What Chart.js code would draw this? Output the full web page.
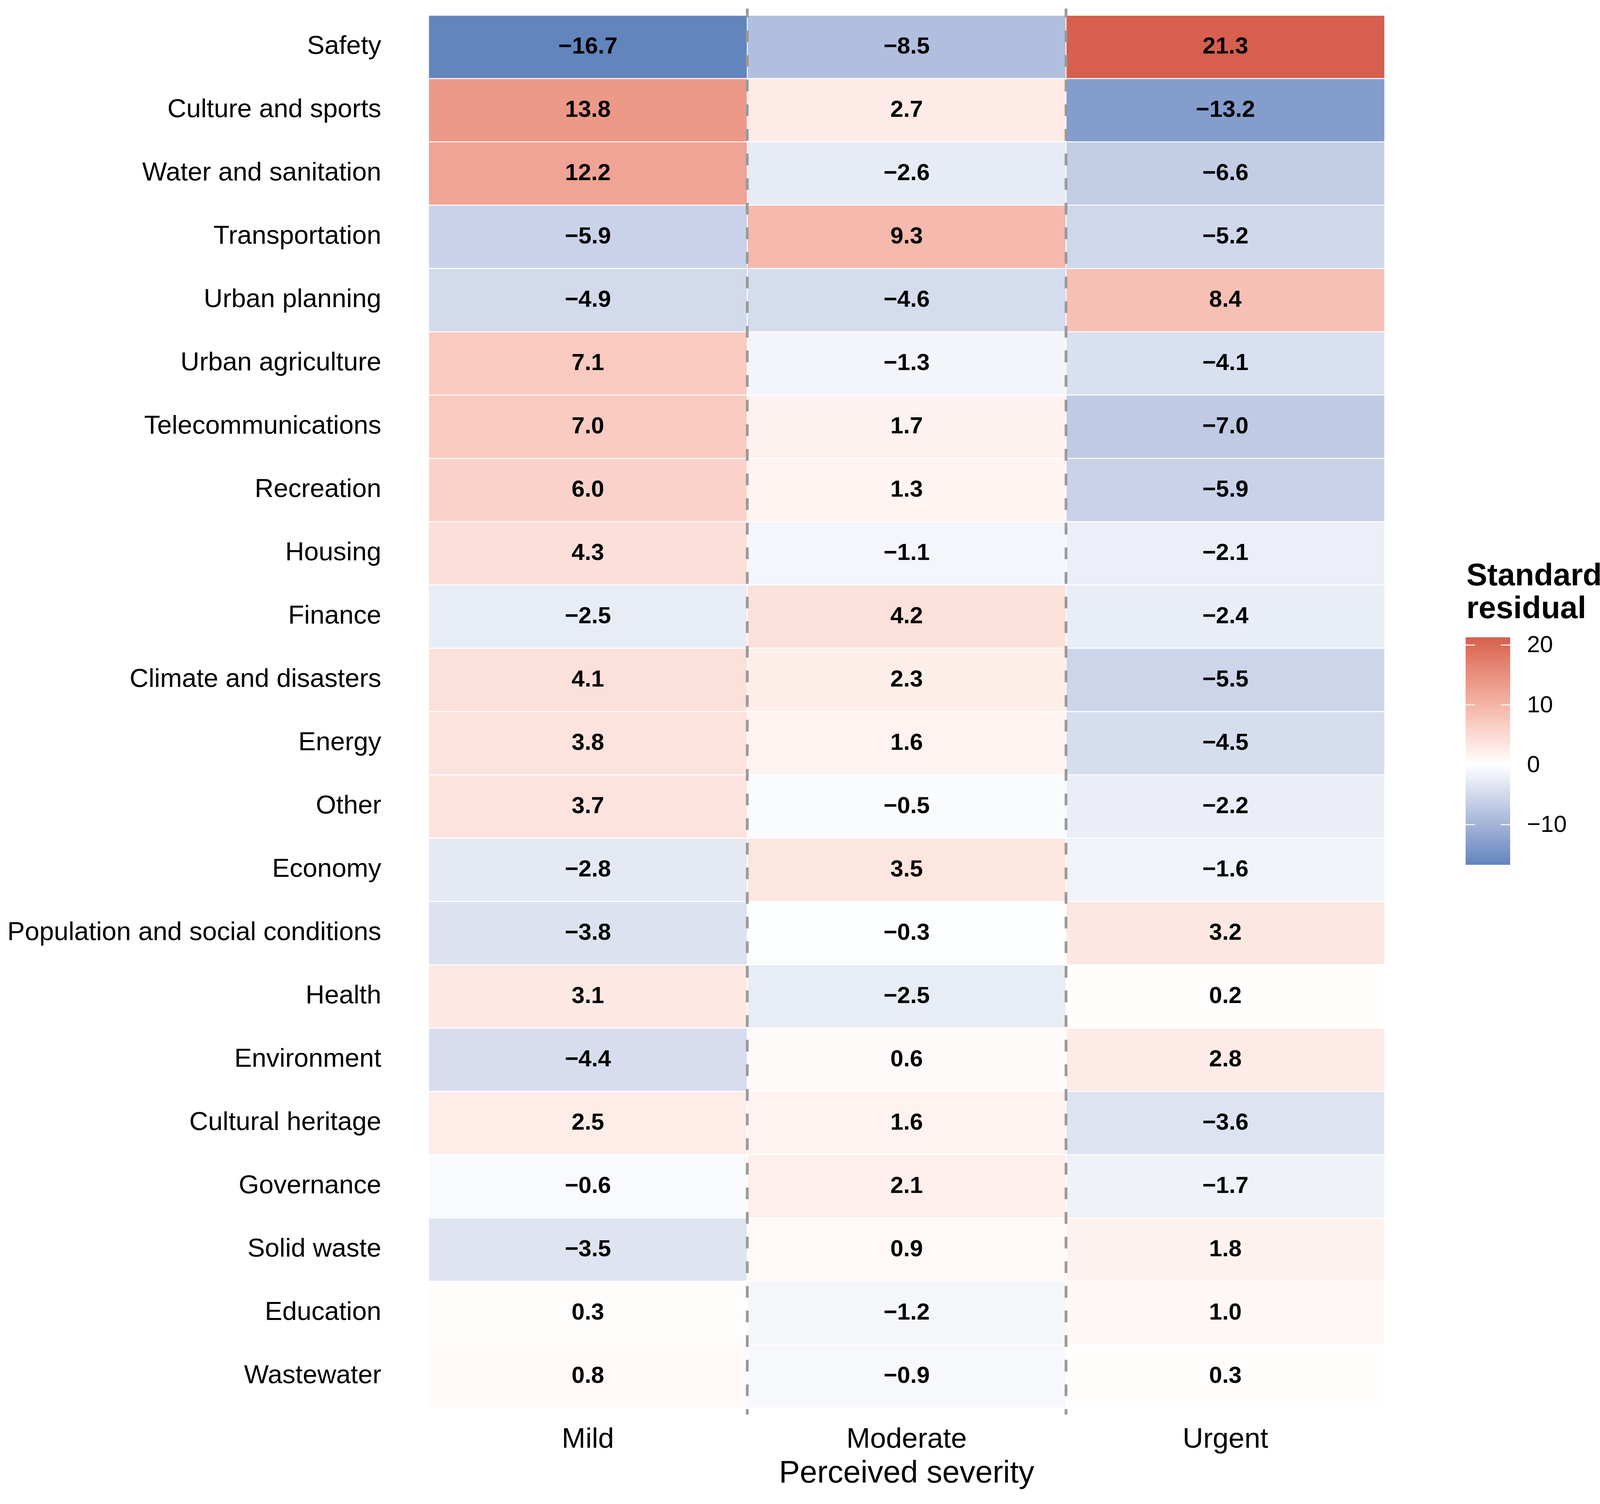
<!DOCTYPE html>
<html><head><meta charset="utf-8">
<script src="https://cdn.jsdelivr.net/npm/chart.js@4.4.1/dist/chart.umd.min.js"></script>
<style>html,body{margin:0;padding:0;background:#fff;overflow:hidden;} #wrap{width:4272px;height:3849px;position:relative;} canvas{display:block;}</style>
</head><body>
<div id="wrap"><canvas id="c" width="4272" height="3849" style="width:4272px;height:3849px"></canvas></div>
<script>
// ---------- data ----------
const topics = ['Safety','Culture and sports','Water and sanitation','Transportation','Urban planning',
  'Urban agriculture','Telecommunications','Recreation','Housing','Finance','Climate and disasters',
  'Energy','Other','Economy','Population and social conditions','Health','Environment',
  'Cultural heritage','Governance','Solid waste','Education','Wastewater'];
const severities = ['Mild','Moderate','Urgent'];
const mild     = [-16.7, 13.8, 12.2, -5.9, -4.9, 7.1, 7.0, 6.0, 4.3, -2.5, 4.1, 3.8, 3.7, -2.8, -3.8, 3.1, -4.4, 2.5, -0.6, -3.5, 0.3, 0.8];
const moderate = [-8.5, 2.7, -2.6, 9.3, -4.6, -1.3, 1.7, 1.3, -1.1, 4.2, 2.3, 1.6, -0.5, 3.5, -0.3, -2.5, 0.6, 1.6, 2.1, 0.9, -1.2, -0.9];
const urgent   = [21.3, -13.2, -6.6, -5.2, 8.4, -4.1, -7.0, -5.9, -2.1, -2.4, -5.5, -4.5, -2.2, -1.6, 3.2, 0.2, 2.8, -3.6, -1.7, 1.8, 1.0, 0.3];
const legendTicks = [20, 10, 0, -10];
const legendTitle = ['Standardized', 'residual'];
const xTitle = 'Perceived severity';

// ---------- colour scale (Lab interpolation, midpoint 0) ----------
const highColor = '#D6604D', lowColor = '#6285BE', midColor = '#FFFFFF';
const columns = [mild, moderate, urgent];
const allVals = columns.flat();
const vMin = Math.min(...allVals), vMax = Math.max(...allVals);

function hexToRgb(h){ h=h.replace('#',''); return [0,2,4].map(i=>parseInt(h.substr(i,2),16)); }
function toLin(c){ c/=255; return c<=0.04045? c/12.92 : Math.pow((c+0.055)/1.055,2.4); }
function fromLin(c){ const v = c<=0.0031308? 12.92*c : 1.055*Math.pow(c,1/2.4)-0.055; return Math.max(0,Math.min(255,Math.round(v*255))); }
const Xn=0.95047, Yn=1.0, Zn=1.08883;
function f(t){ return t>0.008856? Math.cbrt(t) : 7.787*t+16/116; }
function finv(t){ return t>0.206893? t*t*t : (t-16/116)/7.787; }
function rgbToLab(rgb){
  const [r,g,b]=rgb.map(toLin);
  const X=(0.4124*r+0.3576*g+0.1805*b)/Xn, Y=(0.2126*r+0.7152*g+0.0722*b)/Yn, Z=(0.0193*r+0.1192*g+0.9505*b)/Zn;
  const fx=f(X), fy=f(Y), fz=f(Z);
  return [116*fy-16, 500*(fx-fy), 200*(fy-fz)];
}
function labToRgb(lab){
  const fy=(lab[0]+16)/116, fx=fy+lab[1]/500, fz=fy-lab[2]/200;
  const X=finv(fx)*Xn, Y=finv(fy)*Yn, Z=finv(fz)*Zn;
  const r= 3.2406*X-1.5372*Y-0.4986*Z, g=-0.9689*X+1.8758*Y+0.0415*Z, b=0.0557*X-0.2040*Y+1.0570*Z;
  return [fromLin(r),fromLin(g),fromLin(b)];
}
const labHigh=rgbToLab(hexToRgb(highColor)), labLow=rgbToLab(hexToRgb(lowColor)), labMid=rgbToLab(hexToRgb(midColor));
function colorFor(v){
  let t, end;
  if (v>=0){ t=Math.min(1, v/vMax); end=labHigh; } else { t=Math.min(1, v/vMin); end=labLow; }
  const lab=[0,1,2].map(i=>labMid[i]+(end[i]-labMid[i])*t);
  const c=labToRgb(lab);
  return `rgb(${c[0]},${c[1]},${c[2]})`;
}
function fmt(v){ const s=Math.abs(v).toFixed(1); return v<0? '\u2212'+s : s; }

// ---------- chart ----------
const FONT = "'Liberation Sans', Arial, Helvetica, sans-serif";
Chart.defaults.font.family = FONT;
Chart.defaults.color = '#000';

const W=4272, H=3849;
const cbar = {left:3752, top:1631, width:114, height:582};

const cellLabels = {
  id:'cellLabels',
  afterDatasetsDraw(chart){
    const ctx=chart.ctx;
    const xs=chart.scales.x, ca=chart.chartArea;
    ctx.save();
    ctx.strokeStyle='#999999'; ctx.lineWidth=7; ctx.setLineDash([30,33]); ctx.lineDashOffset=7;
    for (let k=1;k<severities.length;k++){
      const px=xs.getPixelForValue(k);
      ctx.beginPath(); ctx.moveTo(px, ca.top-17); ctx.lineTo(px, ca.bottom+17); ctx.stroke();
    }
    ctx.restore();
    ctx.save();
    ctx.font = `bold 60px ${FONT}`; ctx.fillStyle='#000'; ctx.textAlign='center'; ctx.textBaseline='middle';
    chart.data.datasets.forEach((ds,i)=>{
      const meta=chart.getDatasetMeta(i);
      meta.data.forEach((el,j)=>{
        const cx=(el.x+el.base)/2;
        ctx.fillText(fmt(columns[i][j]), cx, el.y);
      });
    });
    ctx.restore();
  },
  afterDraw(chart){
    const ctx=chart.ctx;
    ctx.save();
    const span=vMax-vMin;
    for (let y=0;y<cbar.height;y++){
      const v = vMin + (cbar.height - y - 0.5)/cbar.height*span;
      ctx.fillStyle=colorFor(v);
      ctx.fillRect(cbar.left, cbar.top+y, cbar.width, 1.2);
    }
    ctx.strokeStyle='#fff'; ctx.lineWidth=2.5;
    ctx.font=`60px ${FONT}`; ctx.fillStyle='#000'; ctx.textAlign='left'; ctx.textBaseline='middle';
    legendTicks.forEach(t=>{
      const y = cbar.top + (vMax - t)/span*cbar.height;
      ctx.beginPath(); ctx.moveTo(cbar.left, y); ctx.lineTo(cbar.left+24, y); ctx.stroke();
      ctx.beginPath(); ctx.moveTo(cbar.left+cbar.width-24, y); ctx.lineTo(cbar.left+cbar.width, y); ctx.stroke();
      ctx.fillText(fmt(t).replace('.0',''), cbar.left+157, y+2);
    });
    ctx.font=`bold 80px ${FONT}`; ctx.textBaseline='alphabetic';
    legendTitle.forEach((s,i)=>ctx.fillText(s, cbar.left+2, 1498+i*84));
    ctx.restore();
  }
};

function zeroPad(s){ s.paddingTop=0; s.paddingBottom=0; s.paddingLeft=0; s.paddingRight=0; }

new Chart(document.getElementById('c'), {
  type:'bar',
  data:{
    labels: topics,
    datasets: columns.map((col,i)=>({
      label: severities[i],
      data: topics.map(()=>1),
      backgroundColor: col.map(colorFor),
      borderColor:'#ffffff',
      borderWidth:1.5,
      borderSkipped:false,
      barPercentage:1,
      categoryPercentage:1
    }))
  },
  options:{
    indexAxis:'y',
    responsive:false,
    animation:false,
    devicePixelRatio:1,
    layout:{padding:{top:39,right:W-3545,bottom:29,left:0}},
    plugins:{legend:{display:false}, tooltip:{enabled:false}},
    scales:{
      x:{
        type:'linear', stacked:true, min:0, max:severities.length,
        grid:{display:false, drawTicks:false}, border:{display:false},
        afterBuildTicks:(s)=>{ s.ticks = severities.map((_,i)=>({value:i+0.5})); },
        afterFit:(s)=>{ s.height = H-29-3603; zeroPad(s); },
        ticks:{ autoSkip:false, maxRotation:0, padding:38, color:'#000', font:{size:73},
          callback:(v,i)=>severities[i] },
        title:{ display:true, text:xTitle, color:'#000', font:{size:80}, padding:{top:0,bottom:0} }
      },
      y:{
        type:'category', stacked:true,
        grid:{display:false, drawTicks:false}, border:{display:false},
        afterFit:(s)=>{ s.width = 1097; zeroPad(s); },
        ticks:{ autoSkip:false, padding:121, color:'#000', font:{size:67} }
      }
    }
  },
  plugins:[cellLabels]
});
</script>
</body></html>
